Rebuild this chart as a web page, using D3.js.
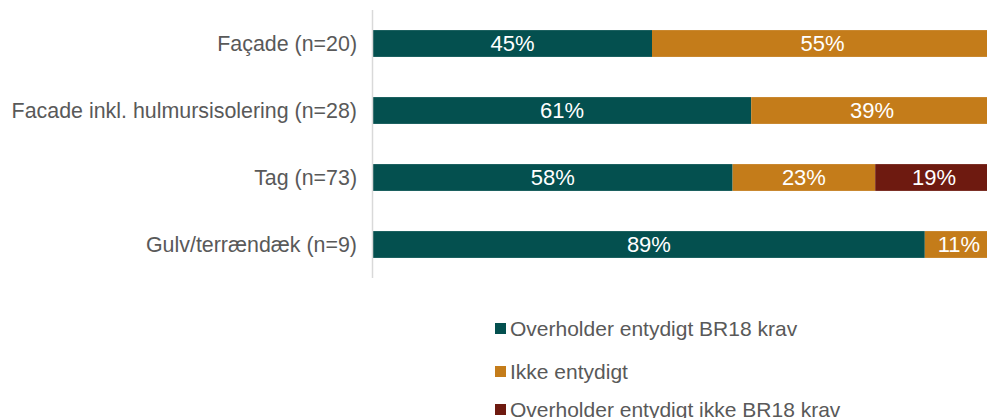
<!DOCTYPE html>
<html>
<head>
<meta charset="utf-8">
<script src="https://cdn.jsdelivr.net/npm/d3@7/dist/d3.min.js"></script>
<style>
  html, body { margin: 0; padding: 0; background: #fff; }
  svg { display: block; font-family: "Liberation Sans", Arial, sans-serif; }
</style>
</head>
<body>
<svg id="chart" width="987" height="418"></svg>
<script>
const categories = ["Façade (n=20)", "Facade inkl. hulmursisolering (n=28)", "Tag (n=73)", "Gulv/terrændæk (n=9)"];
const seriesNames = ["Overholder entydigt BR18 krav", "Ikke entydigt", "Overholder entydigt ikke BR18 krav"];
const overholder = [45, 61, 58, 89];
const ikkeEntydigt = [55, 39, 23, 11];
const overholderIkke = [0, 0, 19, 0];
const colors = ["#04504f", "#c47c1a", "#6e1a10"];

const svg = d3.select("#chart");
const x0 = 373, x1 = 993;
const x = d3.scaleLinear().domain([0, 100]).range([x0, x1]);
const y = d3.scaleBand().domain(categories).range([10, 278]).paddingInner(0.6).paddingOuter(0.3);

const rows = categories.map((c, i) => ({ cat: c, vals: [overholder[i], ikkeEntydigt[i], overholderIkke[i]] }));
const stack = d3.stack().keys([0, 1, 2]).value((d, k) => d.vals[k]);
const layers = stack(rows);

const g = svg.append("g");
layers.forEach((layer, k) => {
  const lg = g.append("g");
  layer.forEach((seg, i) => {
    const v = seg[1] - seg[0];
    if (v <= 0) return;
    lg.append("rect")
      .attr("x", x(seg[0]))
      .attr("y", y(rows[i].cat))
      .attr("width", x(seg[1]) - x(seg[0]))
      .attr("height", y.bandwidth())
      .attr("fill", colors[k]);
    lg.append("text")
      .attr("x", (x(seg[0]) + x(seg[1])) / 2)
      .attr("y", y(rows[i].cat) + y.bandwidth() / 2)
      .attr("dy", "0.36em")
      .attr("text-anchor", "middle")
      .attr("fill", "#ffffff")
      .attr("font-size", "22px")
      .text(v + "%");
  });
});

// category axis
svg.append("line")
  .attr("x1", 372.5).attr("x2", 372.5)
  .attr("y1", 10).attr("y2", 278)
  .attr("stroke", "#d9d9d9").attr("stroke-width", 1.5);

svg.append("g").selectAll("text")
  .data(categories).join("text")
  .attr("x", 357)
  .attr("y", d => y(d) + y.bandwidth() / 2)
  .attr("dy", "0.36em")
  .attr("text-anchor", "end")
  .attr("fill", "#595959")
  .attr("font-size", "21.4px")
  .text(d => d);

// legend
const legendY = [328, 371, 409];
const lg = svg.append("g");
seriesNames.forEach((name, k) => {
  lg.append("rect")
    .attr("x", 495).attr("y", legendY[k] - 5)
    .attr("width", 11).attr("height", 11)
    .attr("fill", colors[k]);
  lg.append("text")
    .attr("x", 510).attr("y", legendY[k])
    .attr("dy", "0.36em")
    .attr("fill", "#595959")
    .attr("font-size", "21px")
    .text(name);
});
</script>
</body>
</html>
